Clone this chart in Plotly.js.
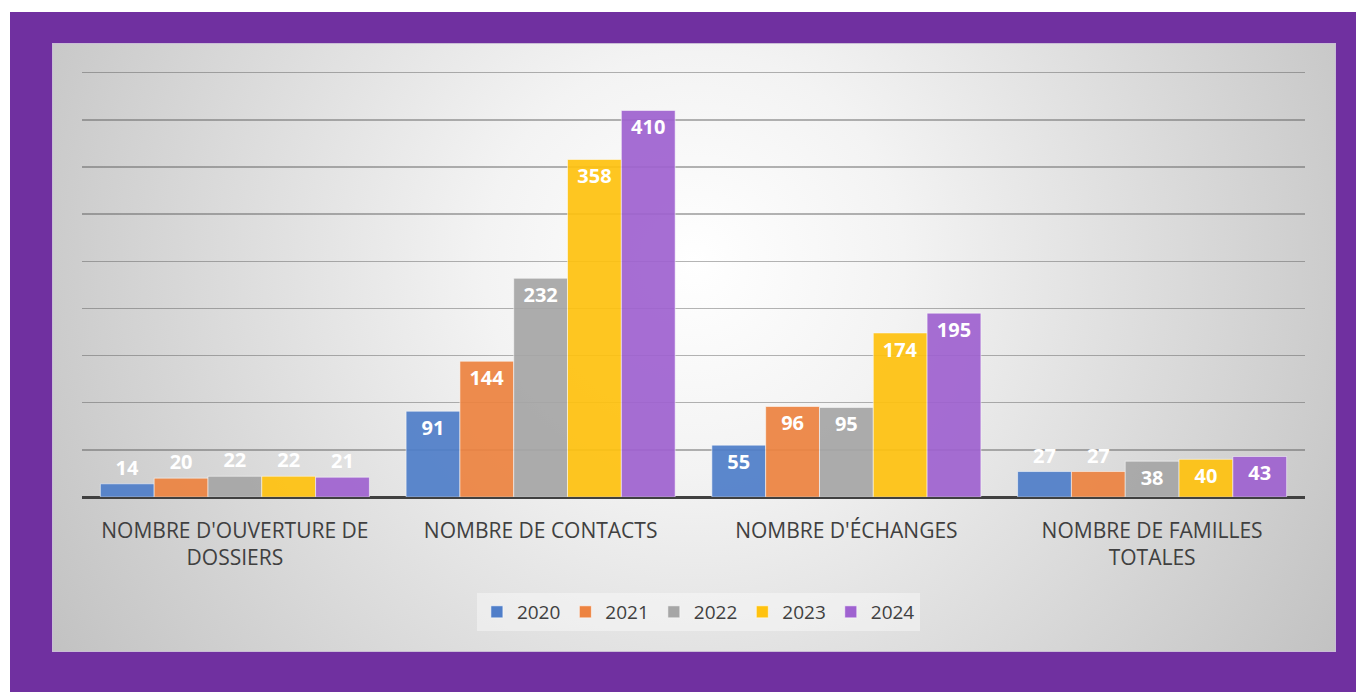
<!DOCTYPE html>
<html>
<head>
<meta charset="utf-8">
<script src="https://cdn.plot.ly/plotly-3.0.1.min.js"></script>
<style>
  html, body { margin: 0; padding: 0; background: #ffffff; }
  body { width: 1356px; height: 692px; position: relative; overflow: hidden; }
  #frame { position: absolute; left: 10px; top: 12px; width: 1346px; height: 680px; background: #7030a0; }
  #panel { position: absolute; left: 52px; top: 43px; width: 1282px; height: 607px;
    border: 1px solid #c9bcd6;
    background: radial-gradient(circle farthest-corner at 50% 36%, #ffffff 0%, #f3f3f3 28%, #c2c2c2 100%); }
  #chart { position: absolute; left: 0; top: 0; width: 1356px; height: 692px; }
</style>
</head>
<body>
<div id="frame"></div>
<div id="panel"></div>
<div id="chart"></div>
<script>
const categories = [
  "NOMBRE D'OUVERTURE DE<br>DOSSIERS",
  "NOMBRE DE CONTACTS",
  "NOMBRE D'ÉCHANGES",
  "NOMBRE DE FAMILLES<br>TOTALES"
];
const years = ["2020", "2021", "2022", "2023", "2024"];
const values2020 = [14, 91, 55, 27];
const values2021 = [20, 144, 96, 27];
const values2022 = [22, 232, 95, 38];
const values2023 = [22, 358, 174, 40];
const values2024 = [21, 410, 195, 43];
const seriesValues = [values2020, values2021, values2022, values2023, values2024];
const colors = ["#4f7ec9", "#ed8340", "#a6a6a6", "#ffc20f", "#9f62d0"];

const labelFont = { family: 'Open Sans', size: 20, color: '#ffffff', weight: 'bold' };

const traces = years.map((yr, i) => ({
  type: 'bar',
  name: yr,
  x: categories,
  y: seriesValues[i],
  text: seriesValues[i].map(String),
  textposition: 'auto',
  insidetextanchor: 'end',
  textangle: 0,
  constraintext: 'none',
  cliponaxis: false,
  textfont: labelFont,
  insidetextfont: labelFont,
  outsidetextfont: labelFont,
  marker: { color: colors[i], opacity: 0.92, line: { color: 'rgba(255,255,255,0.55)', width: 1 } },
  hoverinfo: 'name+y'
}));

const layout = {
  width: 1356,
  height: 692,
  paper_bgcolor: 'rgba(0,0,0,0)',
  plot_bgcolor: 'rgba(0,0,0,0)',
  margin: { l: 82, r: 51, t: 68, b: 195 },
  barmode: 'group',
  bargap: 0.12,
  bargroupgap: 0,
  showlegend: true,
  font: { family: 'Open Sans', color: '#404040' },
  xaxis: {
    type: 'category',
    showgrid: false,
    showline: false,
    ticks: '',
    ticklabelstandoff: 19,
    tickfont: { family: 'Open Sans', size: 21, color: '#404040' }
  },
  yaxis: {
    range: [0, 455],
    dtick: 50,
    showticklabels: false,
    showgrid: true,
    gridcolor: 'rgba(70,70,70,0.40)',
    gridwidth: 1.5,
    zeroline: true,
    zerolinecolor: '#404040',
    zerolinewidth: 3,
    showline: false,
    ticks: ''
  },
  legend: {
    orientation: 'h',
    x: 0.504,
    xanchor: 'center',
    y: -0.268,
    yanchor: 'middle',
    bgcolor: 'rgba(255,255,255,0.4)',
    font: { family: 'Open Sans', size: 19, color: '#404040' },
    itemwidth: 30
  }
};

Plotly.newPlot('chart', traces, layout, { displayModeBar: false, staticPlot: true });
</script>
</body>
</html>
